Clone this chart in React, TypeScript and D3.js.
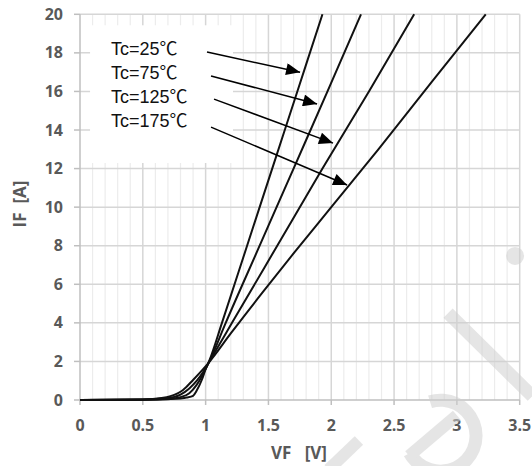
import { useEffect, useRef } from 'react';
import * as d3 from 'd3';

// chart data
const xTicks = [0, 0.5, 1, 1.5, 2, 2.5, 3, 3.5];
const yTicks = [0, 2, 4, 6, 8, 10, 12, 14, 16, 18, 20];
const labels = ['Tc=25℃', 'Tc=75℃', 'Tc=125℃', 'Tc=175℃'];

// [VF, IF] points for each temperature
const curve25 = [[0, 0], [0.5, 0.01], [0.7, 0.04], [0.8, 0.08], [0.85, 0.13], [0.9, 0.22], [0.93, 0.5], [0.97, 1.05], [1.0, 1.6], [1.03, 2.05], [1.13, 4], [1.33, 8], [1.53, 12], [1.73, 16], [1.93, 20]];
const curve75 = [[0, 0], [0.5, 0.015], [0.7, 0.06], [0.8, 0.15], [0.87, 0.35], [0.93, 0.8], [0.98, 1.35], [1.03, 2.0], [1.16, 4], [1.43, 8], [1.7, 12], [1.97, 16], [2.237, 20]];
const curve125 = [[0, 0], [0.5, 0.02], [0.7, 0.1], [0.8, 0.28], [0.87, 0.6], [0.93, 1.0], [0.98, 1.45], [1.03, 2.0], [1.21, 4], [1.57, 8], [1.93, 12], [2.3, 16], [2.66, 20]];
const curve175 = [[0, 0], [0.5, 0.025], [0.65, 0.1], [0.72, 0.2], [0.82, 0.52], [0.9, 1.04], [0.98, 1.6], [1.03, 1.98], [1.2, 3.45], [1.45, 5.55], [1.7, 7.6], [2.0, 10.0], [2.375, 13.0], [2.8, 16.5], [3.23, 20]];
const curves = [curve25, curve75, curve125, curve175];

// label anchor (VF, IF baseline) and arrow [from, to]
const labelPos = [[0.247, 17.9], [0.247, 16.65], [0.247, 15.4], [0.247, 14.15]];
const arrows = [
    [[1.011, 18.04], [1.752, 17.0]],
    [[1.043, 16.8], [1.887, 15.35]],
    [[1.067, 15.6], [2.014, 13.32]],
    [[1.043, 14.15], [2.126, 11.15]],
];

const W = 532;
const H = 466;

const App = () => {
    const ref = useRef<SVGSVGElement>(null);

    useEffect(() => {
        document.body.style.margin = '0';
        const svg = d3.select(ref.current);
        svg.selectAll('*').remove();

        const x = d3.scaleLinear().domain([0, 3.5]).range([80, 519.7]);
        const y = d3.scaleLinear().domain([0, 20]).range([400, 14.3]);

        svg.append('defs').append('marker')
            .attr('id', 'head')
            .attr('markerUnits', 'userSpaceOnUse')
            .attr('viewBox', '0 0 14 12')
            .attr('refX', 14).attr('refY', 6)
            .attr('markerWidth', 15).attr('markerHeight', 12)
            .attr('orient', 'auto')
            .append('path').attr('d', 'M0,0 L14,6 L0,12 Z').attr('fill', '#000');

        // minor vertical grid
        const minor = d3.range(1, 35).map(d => d / 10).filter(d => Math.round(d * 10) % 5 !== 0);
        svg.append('g').selectAll('line').data(minor).join('line')
            .attr('x1', d => x(d)).attr('x2', d => x(d))
            .attr('y1', y(0)).attr('y2', y(20))
            .attr('stroke', '#ececec').attr('stroke-width', 1.2);

        // major grid
        svg.append('g').selectAll('line').data(xTicks.slice(1)).join('line')
            .attr('x1', d => x(d)).attr('x2', d => x(d))
            .attr('y1', y(0)).attr('y2', y(20))
            .attr('stroke', '#d6d6d6').attr('stroke-width', 1.5);
        svg.append('g').selectAll('line').data(yTicks.slice(1)).join('line')
            .attr('x1', x(0)).attr('x2', x(3.5))
            .attr('y1', d => y(d)).attr('y2', d => y(d))
            .attr('stroke', '#d6d6d6').attr('stroke-width', 1.5);

        // white box behind the labels
        svg.append('rect')
            .attr('x', x(0.08)).attr('y', y(19.43))
            .attr('width', x(1.218) - x(0.08)).attr('height', y(12.29) - y(19.43))
            .attr('fill', '#fff');

        // axes
        svg.append('line').attr('x1', x(0)).attr('x2', x(0)).attr('y1', y(0)).attr('y2', y(20))
            .attr('stroke', '#bfbfbf').attr('stroke-width', 1.5);
        svg.append('line').attr('x1', x(0)).attr('x2', x(3.5)).attr('y1', y(0)).attr('y2', y(0))
            .attr('stroke', '#bfbfbf').attr('stroke-width', 1.5);
        svg.append('g').selectAll('line').data(yTicks).join('line')
            .attr('x1', x(0) - 6).attr('x2', x(0))
            .attr('y1', d => y(d)).attr('y2', d => y(d))
            .attr('stroke', '#bfbfbf').attr('stroke-width', 1.5);
        svg.append('g').selectAll('line').data(xTicks).join('line')
            .attr('x1', d => x(d)).attr('x2', d => x(d))
            .attr('y1', y(0)).attr('y2', y(0) + 5)
            .attr('stroke', '#bfbfbf').attr('stroke-width', 1.5);

        // tick labels
        const tickFont = '"Open Sans", "Noto Sans", sans-serif';
        svg.append('g').selectAll('text').data(yTicks).join('text')
            .attr('x', 63).attr('y', d => y(d) + 5.5)
            .attr('text-anchor', 'end')
            .attr('font-family', tickFont).attr('font-weight', 'bold').attr('font-size', 16)
            .attr('fill', '#595959')
            .text(d => d);
        svg.append('g').selectAll('text').data(xTicks).join('text')
            .attr('x', d => x(d)).attr('y', 431)
            .attr('text-anchor', 'middle')
            .attr('font-family', tickFont).attr('font-weight', 'bold').attr('font-size', 16)
            .attr('fill', '#595959')
            .text(d => d);

        // axis titles
        svg.append('text')
            .attr('transform', 'translate(26,204) rotate(-90)')
            .attr('text-anchor', 'middle')
            .attr('font-family', tickFont).attr('font-weight', 'bold').attr('font-size', 17)
            .attr('fill', '#595959')
            .attr('xml:space', 'preserve')
            .text('IF  [A]');
        svg.append('text')
            .attr('x', 299).attr('y', 459)
            .attr('text-anchor', 'middle')
            .attr('font-family', tickFont).attr('font-weight', 'bold').attr('font-size', 17)
            .attr('fill', '#595959')
            .attr('xml:space', 'preserve')
            .text('VF   [V]');

        // curves
        const line = d3.line<number[]>()
            .x(d => x(d[0]))
            .y(d => y(d[1]))
            .curve(d3.curveMonotoneX);
        svg.append('g').selectAll('path').data(curves).join('path')
            .attr('d', d => line(d))
            .attr('fill', 'none')
            .attr('stroke', '#111')
            .attr('stroke-width', 2);

        // labels and arrows
        svg.append('g').selectAll('text').data(labels).join('text')
            .attr('x', (d, i) => x(labelPos[i][0]))
            .attr('y', (d, i) => y(labelPos[i][1]))
            .attr('font-family', '"Liberation Sans", Arial, "Noto Sans CJK JP", sans-serif')
            .attr('font-size', 18)
            .attr('fill', '#111')
            .text(d => d);
        svg.append('g').selectAll('line').data(arrows).join('line')
            .attr('x1', d => x(d[0][0])).attr('y1', d => y(d[0][1]))
            .attr('x2', d => x(d[1][0])).attr('y2', d => y(d[1][1]))
            .attr('stroke', '#000').attr('stroke-width', 1.5)
            .attr('marker-end', 'url(#head)');

        // faint watermark
        const wm = svg.append('g').attr('fill', 'none').attr('stroke', '#d0d0d0').attr('opacity', 0.55);
        wm.append('circle').attr('cx', x(3.463)).attr('cy', y(7.47)).attr('r', 9)
            .attr('fill', '#d0d0d0').attr('stroke', 'none');
        wm.append('line')
            .attr('x1', x(2.93)).attr('y1', y(4.5)).attr('x2', x(3.6)).attr('y2', y(0.2))
            .attr('stroke-width', 13);
        wm.append('line')
            .attr('x1', x(2.22)).attr('y1', y(-2.1)).attr('x2', x(1.98)).attr('y2', y(-3.6))
            .attr('stroke-width', 12);
        const arc = d3.arc()({ innerRadius: 29, outerRadius: 42, startAngle: -0.3, endAngle: 4.2 });
        wm.append('path').attr('d', arc)
            .attr('transform', `translate(${x(2.87)},${y(-1.85)})`)
            .attr('fill', '#d0d0d0').attr('stroke', 'none');
        wm.append('line')
            .attr('x1', x(2.62)).attr('y1', y(-2.9)).attr('x2', x(3.0)).attr('y2', y(-0.8))
            .attr('stroke-width', 12);

        return () => { svg.selectAll('*').remove(); };
    }, []);

    return (
        <div>
            <svg ref={ref} width={W} height={H} style={{ display: 'block', background: '#fff' }}></svg>
        </div>
    );
};

export default App;
